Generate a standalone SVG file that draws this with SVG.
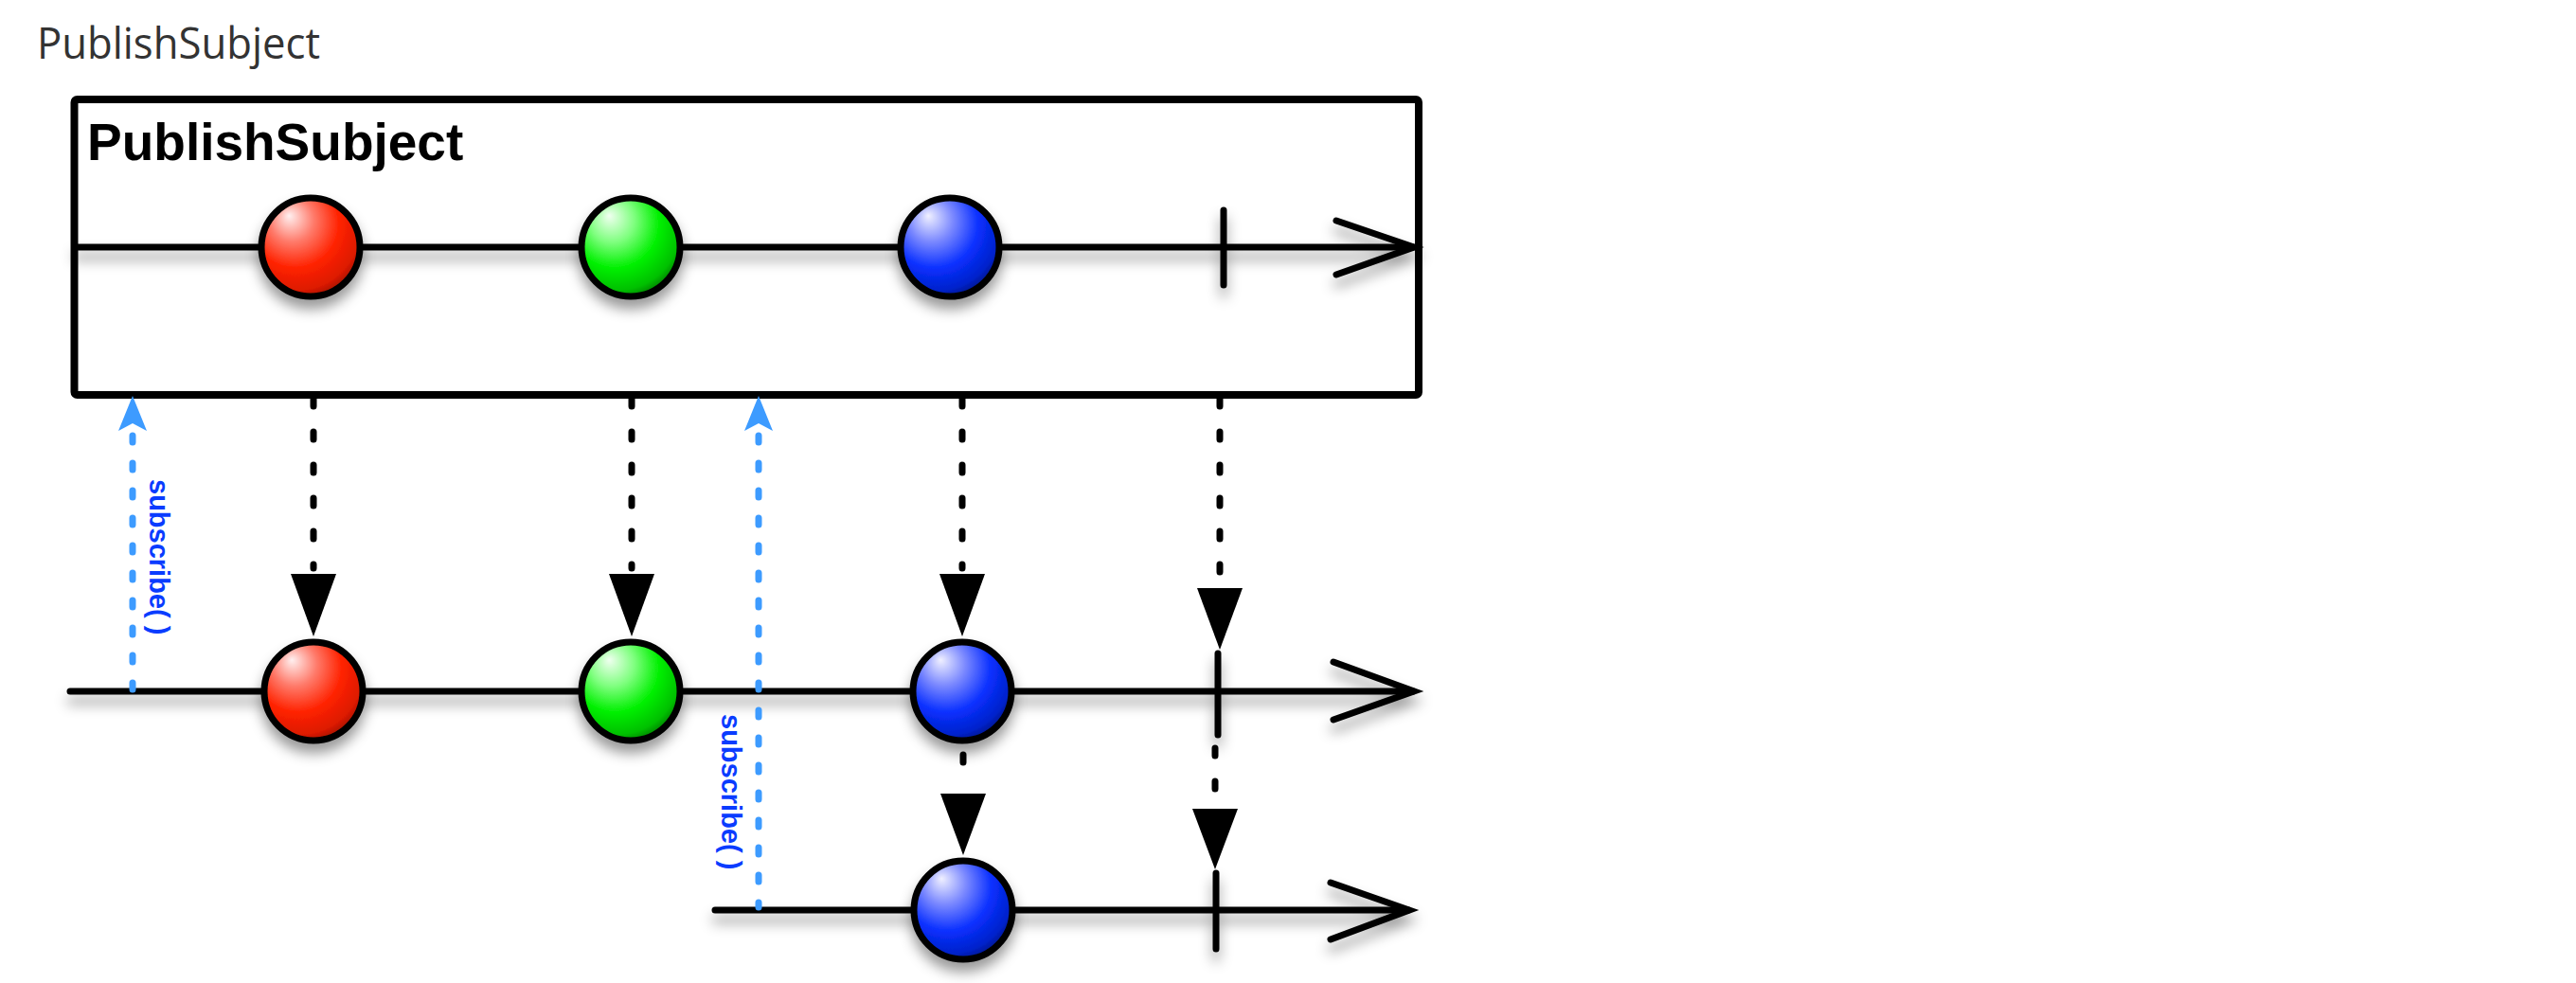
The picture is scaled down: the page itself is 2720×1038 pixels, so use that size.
<svg xmlns="http://www.w3.org/2000/svg" width="2720" height="1038" viewBox="0 0 2720 1038">
  <style>
    .title { font-family: "Open Sans", "Noto Sans", sans-serif; font-size: 46px; fill: #333333; }
    .label { font-family: "Liberation Sans", Arial, sans-serif; font-weight: bold; font-size: 55px; fill: #000000; }
    .sub { font-family: "Liberation Sans", Arial, sans-serif; font-weight: bold; font-size: 29px; fill: #0a3cff; }
    .line { stroke: #000; stroke-width: 7; stroke-linecap: round; fill: none; }
    .ball { stroke: #000; stroke-width: 7; }
    .dash { stroke: #000; stroke-width: 7; stroke-linecap: round; stroke-dasharray: 8 27; fill: none; }
    .bdash { stroke: #3d9bff; stroke-width: 7; stroke-linecap: round; stroke-dasharray: 7 22; fill: none; }
    .head { fill: #000; }
    .bhead { fill: #3d9bff; }
  </style>
  <defs>
    <filter id="sh" x="-20%" y="-50%" width="140%" height="250%">
      <feDropShadow dx="0" dy="10" stdDeviation="7" flood-color="#000" flood-opacity="0.4"/>
    </filter>
    <radialGradient id="gRed" cx="0.38" cy="0.32" r="0.75" fx="0.28" fy="0.18">
      <stop offset="0" stop-color="#fff0f0"/>
      <stop offset="0.3" stop-color="#ff7a6a"/>
      <stop offset="0.6" stop-color="#ff2200"/>
      <stop offset="0.85" stop-color="#dd1a00"/>
      <stop offset="1" stop-color="#8a0e00"/>
    </radialGradient>
    <radialGradient id="gGreen" cx="0.38" cy="0.32" r="0.75" fx="0.28" fy="0.18">
      <stop offset="0" stop-color="#f0fff0"/>
      <stop offset="0.3" stop-color="#80ff80"/>
      <stop offset="0.6" stop-color="#00f000"/>
      <stop offset="0.85" stop-color="#00c000"/>
      <stop offset="1" stop-color="#006600"/>
    </radialGradient>
    <radialGradient id="gBlue" cx="0.38" cy="0.32" r="0.75" fx="0.28" fy="0.18">
      <stop offset="0" stop-color="#f0f0ff"/>
      <stop offset="0.3" stop-color="#7a88ff"/>
      <stop offset="0.6" stop-color="#0a30ff"/>
      <stop offset="0.85" stop-color="#0022cc"/>
      <stop offset="1" stop-color="#001070"/>
    </radialGradient>
  </defs>
  <rect width="2720" height="1038" fill="#ffffff"/>

  <text class="title" x="39" y="62" textLength="299" lengthAdjust="spacingAndGlyphs">PublishSubject</text>

  <g id="subject-box">
    <rect x="78.5" y="105" width="1419.5" height="312" rx="3" fill="none" stroke="#000" stroke-width="8"/>
    <text class="label" x="92" y="169">PublishSubject</text>
  </g>

  <g id="source-timeline">
    <g filter="url(#sh)">
      <line class="line" x1="80" y1="261" x2="1492" y2="261"/>
      <polyline class="line" points="1411,233 1493,261 1411,290"/>
      <line class="line" x1="1292" y1="222" x2="1292" y2="301"/>
    </g>
    <g id="src-red" filter="url(#sh)"><circle class="ball" cx="328" cy="261" r="52" fill="url(#gRed)"/></g>
    <g id="src-green" filter="url(#sh)"><circle class="ball" cx="666" cy="261" r="52" fill="url(#gGreen)"/></g>
    <g id="src-blue" filter="url(#sh)"><circle class="ball" cx="1003" cy="261" r="52" fill="url(#gBlue)"/></g>
  </g>

  <g id="observer1-timeline">
    <g filter="url(#sh)">
      <line class="line" x1="74" y1="730" x2="1492" y2="730"/>
      <polyline class="line" points="1408,699 1493,730 1408,760"/>
      <line class="line" x1="1286" y1="690" x2="1286" y2="776"/>
    </g>
    <g id="obs1-red" filter="url(#sh)"><circle class="ball" cx="331" cy="730" r="52" fill="url(#gRed)"/></g>
    <g id="obs1-green" filter="url(#sh)"><circle class="ball" cx="666" cy="730" r="52" fill="url(#gGreen)"/></g>
    <g id="obs1-blue" filter="url(#sh)"><circle class="ball" cx="1016" cy="730" r="52" fill="url(#gBlue)"/></g>
  </g>

  <g id="observer2-timeline">
    <g filter="url(#sh)">
      <line class="line" x1="755" y1="961" x2="1487" y2="961"/>
      <polyline class="line" points="1405,932 1488,961 1405,992"/>
      <line class="line" x1="1284" y1="922" x2="1284" y2="1002"/>
    </g>
    <g id="obs2-blue" filter="url(#sh)"><circle class="ball" cx="1017" cy="961" r="52" fill="url(#gBlue)"/></g>
  </g>

  <g id="connectors">
    <line class="dash" x1="331" y1="421" x2="331" y2="600"/>
    <polygon class="head" points="307,606 355,606 331,672"/>
    <line class="dash" x1="667" y1="421" x2="667" y2="600"/>
    <polygon class="head" points="643,606 691,606 667,672"/>
    <line class="dash" x1="1016" y1="421" x2="1016" y2="600"/>
    <polygon class="head" points="992,606 1040,606 1016,672"/>
    <line class="dash" x1="1288" y1="421" x2="1288" y2="615"/>
    <polygon class="head" points="1264,621 1312,621 1288,686"/>
    <line class="dash" x1="1017" y1="797" x2="1017" y2="832"/>
    <polygon class="head" points="993,838 1041,838 1017,903"/>
    <line class="dash" x1="1283" y1="790" x2="1283" y2="848"/>
    <polygon class="head" points="1259,854 1307,854 1283,918"/>
    <line class="bdash" x1="140" y1="460" x2="140" y2="728"/>
    <polygon class="bhead" points="140,418 155,455 140,447 125,455"/>
    <line class="bdash" x1="801" y1="460" x2="801" y2="958"/>
    <polygon class="bhead" points="801,418 816,455 801,447 786,455"/>
    <text class="sub" transform="translate(158,506) rotate(90)">subscribe( )</text>
    <text class="sub" transform="translate(762,754) rotate(90)">subscribe( )</text>
  </g>
</svg>
